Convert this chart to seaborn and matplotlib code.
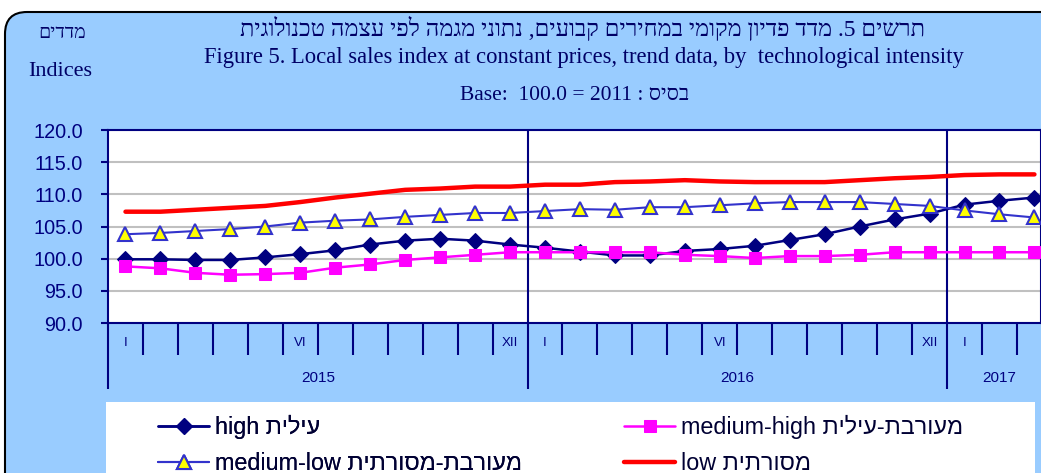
import re
import numpy as np
import pandas as pd
import matplotlib
matplotlib.use('Agg')
import matplotlib.pyplot as plt
import matplotlib.transforms as mtransforms
from matplotlib.patches import FancyBboxPatch, Rectangle
import seaborn as sns

# --- data ---
high = [99.9, 99.9, 99.8, 99.8, 100.2, 100.7, 101.3, 102.2, 102.8, 103.1, 102.8, 102.2,
        101.7, 101.1, 100.5, 100.5, 101.2, 101.5, 102.0, 102.9, 103.8, 105.0, 106.1, 107.0,
        108.4, 109.0, 109.5]
medium_high = [98.8, 98.5, 97.8, 97.5, 97.6, 97.8, 98.6, 99.1, 99.8, 100.2, 100.6, 101.0,
               101.0, 101.0, 101.0, 101.0, 100.6, 100.4, 100.1, 100.4, 100.4, 100.6, 101.0, 101.0,
               101.0, 101.0, 101.0]
medium_low = [103.8, 104.0, 104.3, 104.6, 105.0, 105.6, 105.9, 106.1, 106.5, 106.8, 107.1, 107.1,
              107.4, 107.7, 107.6, 108.0, 108.0, 108.3, 108.6, 108.8, 108.8, 108.8, 108.5, 108.2,
              107.5, 106.9, 106.4]
low = [107.3, 107.3, 107.6, 107.9, 108.2, 108.8, 109.5, 110.1, 110.7, 110.9, 111.2, 111.2,
       111.5, 111.5, 111.9, 112.0, 112.2, 112.0, 111.9, 111.9, 111.9, 112.2, 112.5, 112.7,
       113.0, 113.1, 113.1]

years = ['2015', '2016', '2017']
year_months = [12, 12, 3]          # months shown per year
roman_labels = ['I', 'VI', 'XII', 'I', 'VI', 'XII', 'I']
roman_months = [0, 5, 11, 12, 17, 23, 24]

labels = {'high': 'עילית high',
          'medium_high': 'מעורבת-עילית medium-high',
          'medium_low': 'מעורבת-מסורתית medium-low',
          'low': 'מסורתית low'}

NAVY = '#000080'
LTR = r'[A-Za-z0-9]+(?:[.:\-][A-Za-z0-9]+)*'


def heb(s):
    # logical hebrew order -> visual order (matplotlib has no bidi)
    parts = re.split('(' + LTR + ')', s)
    out = []
    for p in reversed(parts):
        out.append(p if re.fullmatch(LTR, p) else p[::-1])
    return ''.join(out)


W, H = 1041, 473
sns.set_style('white')
fig = plt.figure(figsize=(W / 100, H / 100), dpi=100)
fig.patch.set_facecolor('white')

# light blue rounded panel
bg = FancyBboxPatch((0.05, -0.4), 10.8, (H - 12) / 100 + 0.4,
                    boxstyle='round,pad=0,rounding_size=0.22',
                    transform=fig.dpi_scale_trans, facecolor='#99CCFF',
                    edgecolor='black', lw=1.5, zorder=-3)
fig.patches.append(bg)
leg_box = Rectangle((1.06, -0.2), 9.29, (H - 402) / 100 + 0.2, transform=fig.dpi_scale_trans,
                    facecolor='white', edgecolor='none', zorder=-2)
fig.patches.append(leg_box)

month_w = 34.96
ax = fig.add_axes([108 / W, 1 - 323 / H, (W - 108) / W, (323 - 130) / H])
ax.set_facecolor('white')

df = pd.DataFrame({'pos': np.arange(len(high)) + 0.5, 'high': high,
                   'medium_high': medium_high, 'medium_low': medium_low, 'low': low})

sns.lineplot(data=df, x='pos', y='high', ax=ax, color=NAVY, lw=1.8, marker='D',
             markersize=8, markeredgecolor=NAVY, label=heb(labels['high']), zorder=3)
sns.lineplot(data=df, x='pos', y='medium_high', ax=ax, color='#FF00FF', lw=1.8, marker='s',
             markersize=8.5, markeredgecolor='#FF00FF', label=heb(labels['medium_high']), zorder=4)
sns.lineplot(data=df, x='pos', y='medium_low', ax=ax, color='#3333CC', lw=1.5, marker='^',
             markersize=10, markerfacecolor='#FFFF00', markeredgecolor='#3333CC',
             markeredgewidth=1.5, label=heb(labels['medium_low']), zorder=4)
sns.lineplot(data=df, x='pos', y='low', ax=ax, color='#FF0000', lw=3.2,
             label=heb(labels['low']), zorder=4)
if ax.get_legend():
    ax.get_legend().remove()

ax.set_xlim(0, (W - 108) / month_w)
ax.set_ylim(90, 120)
yt = np.arange(90, 121, 5)
ax.set_yticks(yt)
ax.set_yticklabels([f'{v:.1f}' for v in yt], family=['Liberation Sans', 'DejaVu Sans'])
ax.tick_params(axis='y', length=5, width=1.5, color=NAVY, labelcolor=NAVY,
               labelsize=14.3, pad=13, left=True)
ax.yaxis.grid(True, color='#C0C0C0', lw=1.5)
ax.xaxis.grid(False)
ax.set_axisbelow(True)
ax.set_xlabel('')
ax.set_ylabel('')

bounds = np.cumsum([0] + year_months)
ax.set_xticks(bounds[:-1])
ax.set_xticks([m for m in range(1, 28) if m not in bounds], minor=True)
ax.set_xticklabels([])
ax.tick_params(axis='x', which='major', length=47.5, width=1.5, color=NAVY, bottom=True)
ax.tick_params(axis='x', which='minor', length=23, width=1.5, color=NAVY, bottom=True)
for b in bounds[1:-1]:
    ax.axvline(b, color=NAVY, lw=1.5, zorder=2)
for s in ax.spines.values():
    s.set_color(NAVY)
    s.set_linewidth(1.5)

tr = mtransforms.blended_transform_factory(ax.transData, fig.transFigure)
for lab, m in zip(roman_labels, roman_months):
    ax.text(m + 0.5, 1 - 343 / H, lab, transform=tr, ha='center', va='center',
            fontsize=9.5, color=NAVY, family=['Liberation Sans Narrow', 'Liberation Sans'])
for yr, b0, n in zip(years, bounds[:-1], year_months):
    ax.text(b0 + n / 2, 1 - 378 / H, yr, transform=tr, ha='center', va='center',
            fontsize=11, color=NAVY, family=['Liberation Sans', 'DejaVu Sans'])

# titles
serif = ['Liberation Serif', 'DejaVu Serif']
tc = '#000066'
fig.text(582 / W, 1 - 36 / H, heb('תרשים 5. מדד פדיון מקומי במחירים קבועים, נתוני מגמה לפי עצמה טכנולוגית'),
         ha='center', va='baseline', fontsize=17, color=tc, family=serif)
fig.text(584 / W, 1 - 63 / H,
         'Figure 5. Local sales index at constant prices, trend data, by  technological intensity',
         ha='center', va='baseline', fontsize=16.3, color=tc, family=serif)
fig.text(575 / W, 1 - 100 / H, 'Base:  100.0 = 2011 : ' + heb('בסיס'),
         ha='center', va='baseline', fontsize=15.5, color=tc, family=serif)
fig.text(62 / W, 1 - 38 / H, heb('מדדים'), ha='center', va='baseline', fontsize=14,
         color=tc, family=serif)
fig.text(60 / W, 1 - 76 / H, 'Indices', ha='center', va='baseline', fontsize=16,
         color=tc, family=serif)

# legend: two columns placed separately
h, l = ax.get_legend_handles_labels()
leg_kw = dict(loc='upper left', frameon=False, ncol=1,
              prop={'family': ['Liberation Sans', 'DejaVu Sans'], 'size': 16.8},
              handlelength=2.2, handletextpad=0.25, labelspacing=0.55,
              labelcolor='#000033', borderpad=0, borderaxespad=0)
leg1 = fig.legend([h[0], h[2]], [l[0], l[2]], bbox_to_anchor=(158 / W, 1 - 415 / H), **leg_kw)
fig.add_artist(leg1)
fig.legend([h[1], h[3]], [l[1], l[3]], bbox_to_anchor=(624 / W, 1 - 415 / H), **leg_kw)

fig.savefig('out.png', dpi=100, facecolor=fig.get_facecolor())
